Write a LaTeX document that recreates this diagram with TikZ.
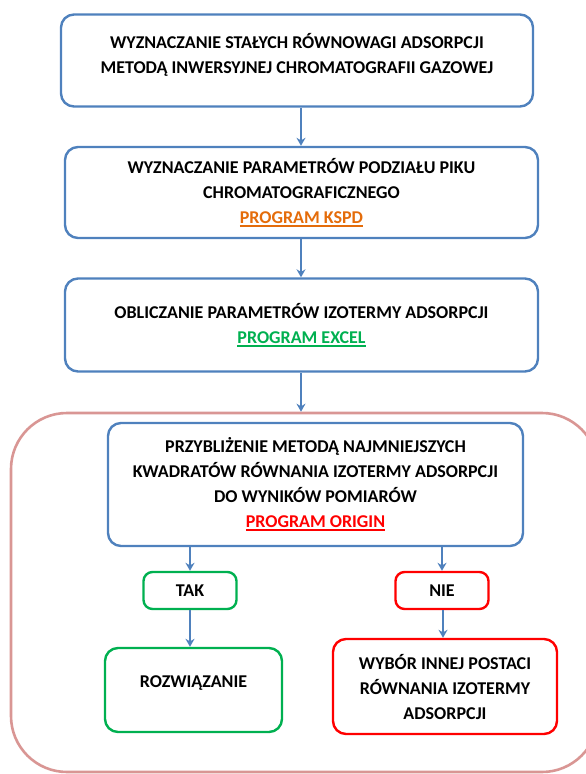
\documentclass[tikz,border=0pt]{standalone}
\usepackage{fontspec}
\setmainfont{Carlito}
\usepackage{tikz}
\usetikzlibrary{arrows.meta, positioning, calc}

\definecolor{blu}{HTML}{4F81BD}
\definecolor{rosa}{HTML}{D99694}
\definecolor{verde}{HTML}{00B050}
\definecolor{rosso}{HTML}{FF0000}
\definecolor{arancio}{HTML}{E46C0A}

% sottolineatura spessa
\newcommand{\sottol}[1]{\leavevmode\vtop{\hbox{#1}\kern1.2pt\hrule height 1.8pt}}

\begin{document}
\begin{tikzpicture}[x=1pt,y=-1pt,>={Stealth[length=8pt,width=9pt]},
  font=\bfseries\fontsize{18}{25}\selectfont,
  blocco/.style={draw=blu,line width=2.4pt,rounded corners=13pt,align=center,inner sep=0pt},
  scelta/.style={line width=2.4pt,rounded corners=9pt,align=center,inner sep=0pt,
    minimum width=93pt,minimum height=37pt},
  freccia/.style={->,draw=blu,line width=1.8pt}]

\useasboundingbox (0,0) rectangle (586,774);

% ---- riquadro esterno ----
\node[draw=rosa,line width=2.6pt,rounded corners=56pt,
  minimum width=587pt,minimum height=359pt] (cornice) at (304.5,592.5) {};

% ---- blocchi principali ----
\node[blocco,minimum width=472pt,minimum height=92pt] (b1) at (297,60.5) {};
\node[align=center] (t1) at (297,54.5)
  {WYZNACZANIE STAŁYCH RÓWNOWAGI ADSORPCJI\\METODĄ INWERSYJNEJ CHROMATOGRAFII GAZOWEJ};

\node[blocco,minimum width=473pt,minimum height=91pt] (b2) at (301.5,192.5)
  {WYZNACZANIE PARAMETRÓW PODZIAŁU PIKU\\CHROMATOGRAFICZNEGO\\
   \textcolor{arancio}{\sottol{PROGRAM KSPD}}};

\node[blocco,minimum width=473pt,minimum height=93pt] (b3) at (301.5,325)
  {OBLICZANIE PARAMETRÓW IZOTERMY ADSORPCJI\\
   \textcolor{verde}{\sottol{PROGRAM EXCEL}}};

\node[blocco,minimum width=415pt,minimum height=123pt] (b4) at (315.5,484.5)
  {PRZYBLIŻENIE METODĄ NAJMNIEJSZYCH\\KWADRATÓW RÓWNANIA IZOTERMY ADSORPCJI\\
   DO WYNIKÓW POMIARÓW\\\textcolor{rosso}{\sottol{PROGRAM ORIGIN}}};

% ---- TAK / NIE ----
\node[scelta,draw=verde] (tak) at (190,590.5) {TAK};
\node[scelta,draw=rosso] (nie) at (442,590.5) {NIE};

\node[blocco,draw=verde,minimum width=177pt,minimum height=84pt] (rozw) at (193.5,690) {};
\node (trozw) at (193.5,683) {ROZWIĄZANIE};

\node[blocco,draw=rosso,minimum width=224pt,minimum height=95pt] (inna) at (445,686.5)
  {WYBÓR INNEJ POSTACI\\RÓWNANIA IZOTERMY\\ADSORPCJI};

% ---- frecce ----
\draw[freccia] (b1.south -| 301,0) -- (b2.north -| 301,0);
\draw[freccia] (b2.south -| 301,0) -- (b3.north -| 301,0);
\draw[freccia] (b3.south -| 301,0) -- (cornice.north -| 301,0);
\draw[freccia] (b4.south -| tak) -- (tak);
\draw[freccia] (b4.south -| nie) -- (nie);
\draw[freccia] (tak.south) -- (tak.south |- rozw.north);
\draw[freccia] (nie.south -| 443,0) -- (inna.north -| 443,0);

\end{tikzpicture}
\end{document}
